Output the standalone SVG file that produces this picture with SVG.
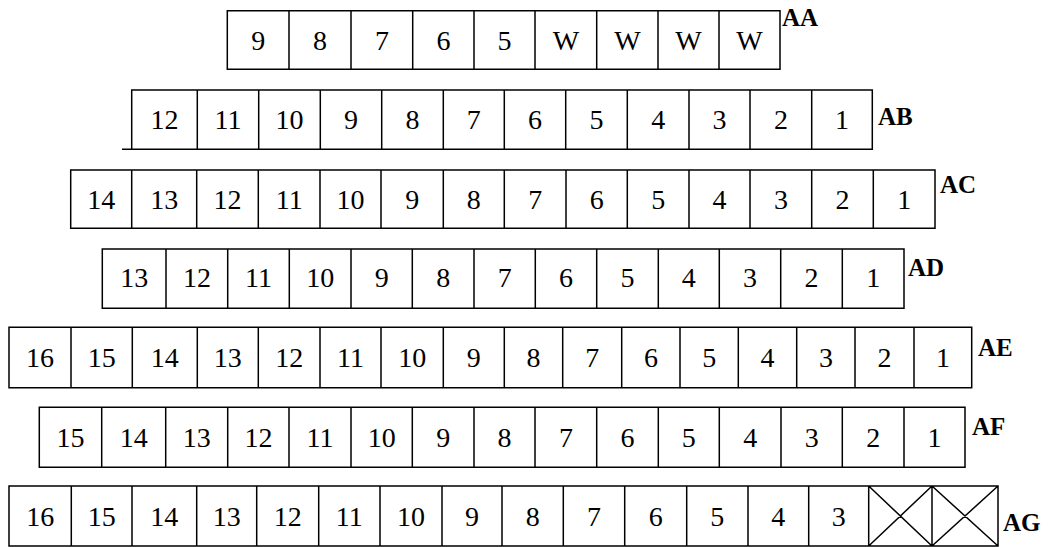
<svg xmlns="http://www.w3.org/2000/svg" width="1049" height="547" viewBox="0 0 1049 547">
<style>
.c{fill:none;stroke:#000;stroke-width:1.5}
.t{font-family:"Liberation Serif","Times New Roman",serif;font-size:28px;text-anchor:middle;fill:#000}
.l{font-family:"Liberation Serif","Times New Roman",serif;font-size:25px;font-weight:bold;fill:#000}
</style>
<rect width="1049" height="547" fill="#fff"/>
<g id="rowAA">
<path class="c" d="M227.3,10.7H780V69.3H227.3Z M289,10.7V69.3 M351,10.7V69.3 M412.7,10.7V69.3 M474,10.7V69.3 M535,10.7V69.3 M596.7,10.7V69.3 M658,10.7V69.3 M719,10.7V69.3"/>
<g class="t">
<text x="258.2" y="49.5">9</text><text x="320" y="49.5">8</text><text x="381.9" y="49.5">7</text><text x="443.4" y="49.5">6</text><text x="504.5" y="49.5">5</text><text x="565.9" y="49.5">W</text><text x="627.4" y="49.5">W</text><text x="688.5" y="49.5">W</text><text x="749.5" y="49.5">W</text>
</g>
<text class="l" x="782" y="26">AA</text>
</g>
<g id="rowAB">
<path class="c" d="M131.7,90H872.3V149.3H131.7Z M122,149.3H131.7 M197.3,90V149.3 M258.7,90V149.3 M320.3,90V149.3 M381.7,90V149.3 M443.3,90V149.3 M504.3,90V149.3 M565.7,90V149.3 M627.3,90V149.3 M689,90V149.3 M750,90V149.3 M811.7,90V149.3"/>
<g class="t">
<text x="164.5" y="129.2">12</text><text x="228" y="129.2">11</text><text x="289.5" y="129.2">10</text><text x="351" y="129.2">9</text><text x="412.5" y="129.2">8</text><text x="473.8" y="129.2">7</text><text x="535" y="129.2">6</text><text x="596.5" y="129.2">5</text><text x="658.2" y="129.2">4</text><text x="719.5" y="129.2">3</text><text x="780.9" y="129.2">2</text><text x="842" y="129.2">1</text>
</g>
<text class="l" x="878" y="125">AB</text>
</g>
<g id="rowAC">
<path class="c" d="M70.7,170H935V228.3H70.7Z M131.7,170V228.3 M196.7,170V228.3 M258.3,170V228.3 M320,170V228.3 M381,170V228.3 M443.3,170V228.3 M504.3,170V228.3 M566,170V228.3 M627.3,170V228.3 M689,170V228.3 M750,170V228.3 M811.7,170V228.3 M873.3,170V228.3"/>
<g class="t">
<text x="101.2" y="209">14</text><text x="164.2" y="209">13</text><text x="227.5" y="209">12</text><text x="289.2" y="209">11</text><text x="350.5" y="209">10</text><text x="412.2" y="209">9</text><text x="473.8" y="209">8</text><text x="535.2" y="209">7</text><text x="596.7" y="209">6</text><text x="658.2" y="209">5</text><text x="719.5" y="209">4</text><text x="780.9" y="209">3</text><text x="842.5" y="209">2</text><text x="904.2" y="209">1</text>
</g>
<text class="l" x="940" y="193">AC</text>
</g>
<g id="rowAD">
<path class="c" d="M102.3,249H904V308.3H102.3Z M166,249V308.3 M227.7,249V308.3 M289.3,249V308.3 M351,249V308.3 M412.3,249V308.3 M474,249V308.3 M535.3,249V308.3 M596.7,249V308.3 M658.3,249V308.3 M719.3,249V308.3 M780.7,249V308.3 M842.3,249V308.3"/>
<g class="t">
<text x="134.2" y="287">13</text><text x="196.9" y="287">12</text><text x="258.5" y="287">11</text><text x="320.2" y="287">10</text><text x="381.7" y="287">9</text><text x="443.2" y="287">8</text><text x="504.7" y="287">7</text><text x="566" y="287">6</text><text x="627.5" y="287">5</text><text x="688.8" y="287">4</text><text x="750" y="287">3</text><text x="811.5" y="287">2</text><text x="873.2" y="287">1</text>
</g>
<text class="l" x="908" y="276">AD</text>
</g>
<g id="rowAE">
<path class="c" d="M9,327.3H971.7V387.7H9Z M71,327.3V387.7 M132.3,327.3V387.7 M197.3,327.3V387.7 M258.3,327.3V387.7 M320,327.3V387.7 M381,327.3V387.7 M443.3,327.3V387.7 M504.3,327.3V387.7 M562.7,327.3V387.7 M621.7,327.3V387.7 M680,327.3V387.7 M738.3,327.3V387.7 M796.7,327.3V387.7 M855,327.3V387.7 M914,327.3V387.7"/>
<g class="t">
<text x="40" y="367">16</text><text x="101.7" y="367">15</text><text x="164.8" y="367">14</text><text x="227.8" y="367">13</text><text x="289.2" y="367">12</text><text x="350.5" y="367">11</text><text x="412.2" y="367">10</text><text x="473.8" y="367">9</text><text x="533.5" y="367">8</text><text x="592.2" y="367">7</text><text x="650.9" y="367">6</text><text x="709.2" y="367">5</text><text x="767.5" y="367">4</text><text x="825.9" y="367">3</text><text x="884.5" y="367">2</text><text x="942.9" y="367">1</text>
</g>
<text class="l" x="978" y="356">AE</text>
</g>
<g id="rowAF">
<path class="c" d="M39.3,407.3H965V467.3H39.3Z M101.7,407.3V467.3 M165.7,407.3V467.3 M227.7,407.3V467.3 M289,407.3V467.3 M351,407.3V467.3 M412.3,407.3V467.3 M474,407.3V467.3 M535,407.3V467.3 M596.7,407.3V467.3 M658.3,407.3V467.3 M719.3,407.3V467.3 M781,407.3V467.3 M842.3,407.3V467.3 M904,407.3V467.3"/>
<g class="t">
<text x="70.5" y="446.5">15</text><text x="133.7" y="446.5">14</text><text x="196.7" y="446.5">13</text><text x="258.4" y="446.5">12</text><text x="320" y="446.5">11</text><text x="381.7" y="446.5">10</text><text x="443.2" y="446.5">9</text><text x="504.5" y="446.5">8</text><text x="565.9" y="446.5">7</text><text x="627.5" y="446.5">6</text><text x="688.8" y="446.5">5</text><text x="750.2" y="446.5">4</text><text x="811.7" y="446.5">3</text><text x="873.2" y="446.5">2</text><text x="934.5" y="446.5">1</text>
</g>
<text class="l" x="972" y="435">AF</text>
</g>
<g id="rowAG">
<path class="c" d="M9,486H998V546H9Z M71.3,486V546 M132,486V546 M196.7,486V546 M256.7,486V546 M318.7,486V546 M380,486V546 M442,486V546 M502,486V546 M563.3,486V546 M624.7,486V546 M686.7,486V546 M748,486V546 M808.7,486V546 M868.7,486V546 M932,486V546 M868.7,486L932,546 M932,486L868.7,546 M932,486L998,546 M998,486L932,546"/>
<g class="t">
<text x="40.2" y="526">16</text><text x="101.7" y="526">15</text><text x="164.3" y="526">14</text><text x="226.7" y="526">13</text><text x="287.7" y="526">12</text><text x="349.3" y="526">11</text><text x="411" y="526">10</text><text x="472" y="526">9</text><text x="532.7" y="526">8</text><text x="594" y="526">7</text><text x="655.7" y="526">6</text><text x="717.3" y="526">5</text><text x="778.3" y="526">4</text><text x="838.7" y="526">3</text>
</g>
<text class="l" x="1003" y="531">AG</text>
</g>
</svg>
